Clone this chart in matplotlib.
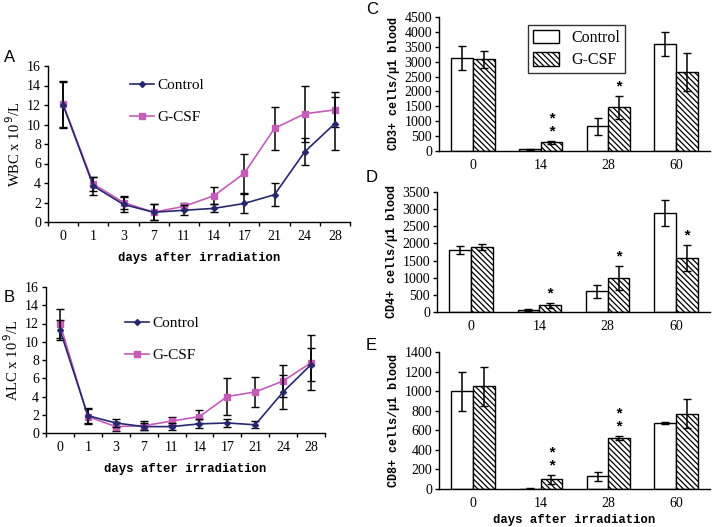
import numpy as np
import matplotlib.pyplot as plt

# line panels (A: WBC, B: ALC)
days = ['0', '1', '3', '7', '11', '14', '17', '21', '24', '28']
wbc_ctrl = [12.0, 3.7, 1.8, 1.0, 1.2, 1.4, 1.9, 2.8, 7.2, 10.1]
wbc_ctrl_err = [2.4, 0.9, 0.8, 0.8, 0.5, 0.4, 1.0, 1.2, 1.4, 2.7]
wbc_gcsf = [12.1, 3.9, 2.0, 1.0, 1.6, 2.7, 5.0, 9.6, 11.1, 11.5]
wbc_gcsf_err = [2.4, 0.7, 0.7, 0.8, 0.4, 0.9, 2.0, 2.2, 2.9, 1.8]
alc_ctrl = [11.3, 1.9, 1.1, 0.7, 0.7, 1.0, 1.1, 0.9, 4.5, 7.5]
alc_ctrl_err = [1.1, 0.8, 0.4, 0.4, 0.4, 0.5, 0.4, 0.4, 1.9, 1.85]
alc_gcsf = [12.0, 1.8, 0.7, 0.8, 1.3, 1.8, 4.0, 4.5, 5.7, 7.7]
alc_gcsf_err = [1.6, 0.8, 0.5, 0.5, 0.4, 0.7, 2.0, 1.6, 1.8, 3.0]

# bar panels (C: CD3, D: CD4, E: CD8)
bar_days = ['0', '14', '28', '60']
cd3_ctrl = [3120, 60, 830, 3600]
cd3_ctrl_err = [400, 20, 280, 400]
cd3_gcsf = [3080, 300, 1470, 2650]
cd3_gcsf_err = [280, 50, 380, 650]
cd3_stars = ['', '*\n*', '*', '']
cd4_ctrl = [1800, 60, 600, 2900]
cd4_ctrl_err = [120, 20, 200, 380]
cd4_gcsf = [1900, 200, 1000, 1580]
cd4_gcsf_err = [90, 70, 350, 380]
cd4_stars = ['', '*', '*', '*']
cd8_ctrl = [1000, 5, 130, 670]
cd8_ctrl_err = [200, 3, 45, 10]
cd8_gcsf = [1050, 100, 520, 770]
cd8_gcsf_err = [200, 45, 20, 150]
cd8_stars = ['', '*\n*', '*\n*', '']

plt.rcParams['hatch.linewidth'] = 0.9

W, H = 714, 527
fig = plt.figure(figsize=(W/100, H/100), dpi=100)

def px_axes(left, top, right, bottom):
    return fig.add_axes([left/W, 1-bottom/H, (right-left)/W, (bottom-top)/H])

tick_font = {'family': 'Liberation Serif', 'size': 10}
mono = 'Liberation Mono'

def style(ax):
    for s in ['top', 'right']:
        ax.spines[s].set_visible(False)
    for s in ['left', 'bottom']:
        ax.spines[s].set_linewidth(1.0)
    ax.tick_params(axis='y', direction='out', length=3, width=1, pad=2)
    for lab in ax.get_yticklabels():
        lab.set_fontproperties(tick_font)

def line_panel(ax, ctrl, cerr, gcsf, gerr, ylabel, leg_anchor):
    x = np.arange(len(days)) + 0.5
    ax.errorbar(x, ctrl, yerr=cerr, color='#27276e', ecolor='black', marker='D', ms=3,
                lw=1.2, elinewidth=1.1, capsize=3, label='Control', zorder=3)
    ax.errorbar(x, gcsf, yerr=gerr, color='#c45cb8', ecolor='black', marker='s', ms=4,
                lw=1.2, elinewidth=1.1, capsize=3, label='G-CSF', zorder=2)
    ax.set_xlim(0, len(days))
    ax.set_ylim(0, 16)
    ax.set_yticks(range(0, 17, 2))
    ax.set_xticks(np.arange(len(days) + 1))
    ax.set_xticklabels([])
    ax.set_xticks(x, minor=True)
    ax.set_xticklabels(days, minor=True, fontdict=tick_font)
    ax.tick_params(axis='x', which='major', direction='out', length=3, width=1)
    ax.tick_params(axis='x', which='minor', length=0, pad=6)
    style(ax)
    ax.set_ylabel(ylabel, fontfamily='Liberation Serif', fontsize=10.5, labelpad=3)
    ax.set_xlabel('days after irradiation', fontfamily=mono, fontsize=8.8,
                  fontweight='bold', labelpad=6)
    handles, labels = ax.get_legend_handles_labels()
    handles = [h[0] for h in handles]
    ax.legend(handles, labels, loc='upper left', bbox_to_anchor=leg_anchor, frameon=False,
              prop={'family': 'Liberation Serif', 'size': 11}, labelspacing=1.2,
              handlelength=1.6, handletextpad=0.2, borderpad=0.2)

def bar_panel(ax, ctrl, cerr, gcsf, gerr, stars, ymax, step, ylabel, legend=False, xlabel=False):
    x = np.arange(len(bar_days)) + 0.5
    w = 0.32
    ax.bar(x - w/2, ctrl, w, yerr=cerr, color='white', edgecolor='black', lw=1.0,
           error_kw={'elinewidth': 1.1, 'capsize': 3}, label='Control')
    ax.bar(x + w/2, gcsf, w, yerr=gerr, color='white', edgecolor='black', lw=1.0,
           hatch='\\\\\\\\\\\\', error_kw={'elinewidth': 1.1, 'capsize': 3}, label='G-CSF')
    for xi, g, e, s in zip(x, gcsf, gerr, stars):
        if s:
            ax.text(xi + w/2, g + e + ymax*0.01, s, ha='center', va='bottom', fontsize=11,
                    fontfamily=mono, fontweight='bold', linespacing=0.9)
    ax.set_xlim(0, len(bar_days))
    ax.set_ylim(0, ymax)
    ax.set_yticks(np.arange(0, ymax + 1, step))
    ax.set_xticks(x)
    ax.set_xticklabels(bar_days, fontdict=tick_font)
    ax.tick_params(axis='x', length=0, pad=6)
    style(ax)
    ax.set_ylabel(ylabel, fontfamily=mono, fontsize=8.5, fontweight='bold', labelpad=3)
    if xlabel:
        ax.set_xlabel('days after irradiation', fontfamily=mono, fontsize=8.8,
                      fontweight='bold', labelpad=3)
    if legend:
        ax.legend(loc='upper left', bbox_to_anchor=(0.3, 1.0), frameon=True, fancybox=False,
                  edgecolor='black', prop={'family': 'Liberation Serif', 'size': 11.5},
                  handlelength=1.6, handleheight=0.9, labelspacing=0.4, borderpad=0.3)

axA = px_axes(48, 66, 350, 222)
line_panel(axA, wbc_ctrl, wbc_ctrl_err, wbc_gcsf, wbc_gcsf_err, r'WBC x 10$^{\,9}$/L',
           (0.235, 0.99))
axB = px_axes(46, 287, 325, 433)
line_panel(axB, alc_ctrl, alc_ctrl_err, alc_gcsf, alc_gcsf_err, r'ALC x 10$^{\,9}$/L',
           (0.245, 0.87))

axC = px_axes(439, 17, 710, 151)
bar_panel(axC, cd3_ctrl, cd3_ctrl_err, cd3_gcsf, cd3_gcsf_err, cd3_stars, 4500, 500,
          'CD3+ cells/\u03bc1 blood', legend=True)
axD = px_axes(437, 192, 710, 312)
bar_panel(axD, cd4_ctrl, cd4_ctrl_err, cd4_gcsf, cd4_gcsf_err, cd4_stars, 3500, 500,
          'CD4+ cells/\u03bc1 blood')
axE = px_axes(439, 352, 710, 489)
bar_panel(axE, cd8_ctrl, cd8_ctrl_err, cd8_gcsf, cd8_gcsf_err, cd8_stars, 1400, 200,
          'CD8+ cells/\u03bc1 blood', xlabel=True)

for letter, (px, py) in zip('ABCDE', [(4, 58), (4, 297), (366, 10), (366, 178), (366, 345)]):
    fig.text(px/W, 1 - py/H, letter, fontfamily='Liberation Sans', fontsize=12, va='center')

fig.savefig('out.png', dpi=100)
